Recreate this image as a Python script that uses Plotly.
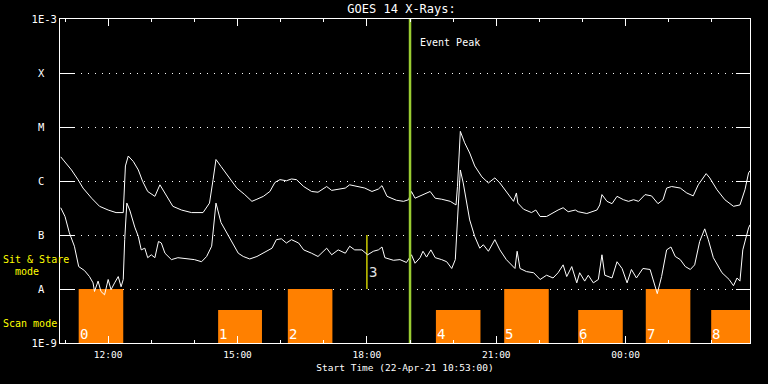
import pandas as pd
import plotly.graph_objects as go

# ---------------- data ----------------
start_time = "2021-04-22 10:53:00"
x_end = "2021-04-23 02:53:00"

# GOES long channel (1-8 A), minutes since start / flux W m^-2
long_min = [1, 16, 25, 32, 44, 55, 67, 78, 88, 91, 95, 102, 109, 115, 122, 132, 139, 146, 157, 169,
            183, 199, 208, 213, 217, 224, 238, 246, 257, 267, 274, 283, 292, 299, 306, 315, 322, 329,
            339, 350, 359, 371, 378, 387, 397, 403, 415, 424, 434, 443, 448, 455, 468, 478, 485, 489,
            494, 501, 508, 515, 522, 531, 543, 551, 553, 555, 557, 563, 570, 577, 587, 596, 605, 612,
            621, 631, 635, 637, 645, 656, 662, 668, 677, 686, 693, 700, 707, 717, 721, 733, 747, 751,
            754, 761, 768, 775, 784, 791, 798, 805, 814, 823, 832, 839, 844, 851, 863, 872, 881, 888,
            899, 904, 914, 925, 937, 946, 953, 958, 960]
long_flux = [2.8e-6, 1.6e-6, 1.06e-6, 7.4e-7, 4.8e-7, 3.4e-7, 2.9e-7, 2.6e-7, 2.6e-7, 1.9e-6, 2.9e-6,
             2.3e-6, 1.6e-6, 9.8e-7, 6.4e-7, 5.2e-7, 8.5e-7, 6.0e-7, 3.4e-7, 2.9e-7, 2.6e-7, 2.6e-7,
             3.9e-7, 1.06e-6, 2.5e-6, 1.86e-6, 1.06e-6, 7.4e-7, 5.6e-7, 4.2e-7, 4.6e-7, 5.2e-7, 6.4e-7,
             9.4e-7, 1.06e-6, 1.01e-6, 1.09e-6, 1.06e-6, 7.9e-7, 6.4e-7, 6.2e-7, 7.9e-7, 6.7e-7, 7.1e-7,
             7.4e-7, 8.5e-7, 7.9e-7, 7.4e-7, 6.4e-7, 7.1e-7, 8.2e-7, 5.2e-7, 4.4e-7, 4.2e-7, 4.5e-7,
             6.4e-7, 4.8e-7, 5.3e-7, 5.8e-7, 6.4e-7, 4.8e-7, 4.6e-7, 4.2e-7, 3.6e-7, 7.9e-7, 2.5e-6,
             8.3e-6, 5.1e-6, 3.3e-6, 1.9e-6, 1.19e-6, 9.2e-7, 1.14e-6, 9.2e-7, 6.4e-7, 4.2e-7, 6.0e-7,
             3.9e-7, 3.0e-7, 2.6e-7, 2.9e-7, 2.2e-7, 2.2e-7, 2.6e-7, 2.9e-7, 3.2e-7, 2.7e-7, 2.9e-7,
             2.7e-7, 2.5e-7, 2.9e-7, 3.6e-7, 5.6e-7, 4.2e-7, 3.8e-7, 5.2e-7, 4.5e-7, 4.2e-7, 4.5e-7,
             4.2e-7, 5.6e-7, 5.3e-7, 3.8e-7, 4.5e-7, 7.4e-7, 7.9e-7, 7.4e-7, 6.0e-7, 5.3e-7, 8.5e-7,
             1.37e-6, 1.14e-6, 6.9e-7, 4.5e-7, 3.4e-7, 3.6e-7, 6.9e-7, 1.41e-6, 1.55e-6]

# GOES short channel (0.5-4 A)
short_min = [1, 7, 13, 20, 26, 30, 34, 41, 46, 48, 53, 57, 62, 67, 71, 76, 81, 85, 88, 90, 93, 97, 104,
             109, 113, 118, 122, 127, 132, 137, 141, 146, 155, 164, 178, 187, 197, 204, 211, 214, 217,
             224, 234, 243, 248, 255, 264, 274, 283, 295, 301, 308, 315, 322, 332, 339, 350, 359, 371,
             378, 387, 397, 403, 410, 420, 428, 436, 443, 448, 452, 464, 473, 482, 489, 494, 501, 505,
             510, 516, 522, 531, 538, 545, 550, 553, 555, 557, 561, 566, 570, 577, 584, 589, 596, 605,
             612, 621, 633, 636, 640, 649, 659, 668, 677, 686, 693, 700, 705, 712, 719, 723, 730, 735,
             742, 749, 754, 758, 768, 775, 782, 789, 795, 802, 811, 821, 825, 831, 837, 844, 850, 856,
             863, 870, 877, 883, 890, 897, 902, 909, 921, 931, 937, 942, 946, 950, 958, 960]
short_flux = [3.2e-7, 2.2e-7, 1.1e-7, 6.2e-8, 2.6e-8, 2.4e-8, 2.2e-8, 1.7e-8, 1.3e-8, 9.0e-9, 1.4e-8,
              9.0e-9, 7.8e-9, 1.5e-8, 9.7e-9, 1.3e-8, 1.7e-8, 1.1e-8, 1.5e-8, 8.2e-8, 3.9e-7, 2.9e-7,
              1.4e-7, 9.4e-8, 5.3e-8, 5.7e-8, 3.8e-8, 4.3e-8, 3.8e-8, 7.6e-8, 7.1e-8, 4.6e-8, 3.5e-8,
              3.8e-8, 3.6e-8, 3.5e-8, 3.2e-8, 4.0e-8, 6.2e-8, 1.4e-7, 3.9e-7, 1.7e-7, 1.0e-7, 6.2e-8,
              4.6e-8, 4.0e-8, 3.6e-8, 4.0e-8, 4.6e-8, 5.7e-8, 8.2e-8, 8.5e-8, 7.1e-8, 8.2e-8, 7.1e-8,
              5.3e-8, 4.6e-8, 4.0e-8, 5.7e-8, 4.3e-8, 5.3e-8, 4.6e-8, 6.2e-8, 5.3e-8, 5.3e-8, 4.3e-8,
              5.0e-8, 5.3e-8, 6.0e-8, 3.8e-8, 3.4e-8, 3.5e-8, 3.1e-8, 4.3e-8, 3.0e-8, 3.8e-8, 5.0e-8,
              3.9e-8, 5.3e-8, 3.8e-8, 3.5e-8, 3.2e-8, 2.4e-8, 3.5e-8, 1.9e-7, 7.9e-7, 1.6e-6, 9.2e-7,
              3.9e-7, 1.9e-7, 9.4e-8, 5.7e-8, 6.6e-8, 5.0e-8, 8.2e-8, 5.3e-8, 3.5e-8, 2.4e-8, 5.0e-8,
              2.4e-8, 2.1e-8, 2.0e-8, 1.5e-8, 1.8e-8, 1.6e-8, 2.0e-8, 2.8e-8, 1.7e-8, 2.6e-8, 1.3e-8,
              2.0e-8, 1.4e-8, 1.8e-8, 1.3e-8, 1.5e-8, 4.3e-8, 1.8e-8, 1.6e-8, 3.2e-8, 2.4e-8, 1.3e-8,
              2.3e-8, 1.6e-8, 2.4e-8, 2.3e-8, 1.5e-8, 8.2e-9, 1.7e-8, 5.3e-8, 6.0e-8, 4.0e-8, 3.5e-8,
              2.6e-8, 2.3e-8, 2.8e-8, 7.6e-8, 1.3e-7, 8.2e-8, 3.8e-8, 2.0e-8, 1.5e-8, 1.15e-8, 1.6e-8,
              1.4e-8, 5.3e-8, 1.35e-7, 1.55e-7]

# IRIS observations: rasters (scan mode)
scan_ids = ["0", "1", "2", "4", "5", "6", "7", "8"]
scan_start = ["2021-04-22 11:19", "2021-04-22 14:33", "2021-04-22 16:10", "2021-04-22 19:36",
              "2021-04-22 21:11", "2021-04-22 22:54", "2021-04-23 00:28", "2021-04-23 01:59"]
scan_end = ["2021-04-22 12:21", "2021-04-22 15:34", "2021-04-22 17:12", "2021-04-22 20:38",
            "2021-04-22 22:13", "2021-04-22 23:56", "2021-04-23 01:30", "2021-04-23 03:01"]
scan_top = [1e-8, 4.1e-9, 1e-8, 4.1e-9, 1e-8, 4.1e-9, 1e-8, 4.1e-9]
# sit & stare
sit_ids = ["3"]
sit_time = ["2021-04-22 18:00"]
sit_low = [1e-8]
sit_high = [1e-7]

event_peak = "2021-04-22 19:00"

y_tickvals = [1e-9, 1e-8, 1e-7, 1e-6, 1e-5, 1e-4, 1e-3]
y_ticktext = ["1E-9", "A", "B", "C", "M", "X", "1E-3"]

# ---------------- figure ----------------
t0 = pd.Timestamp(start_time)
long_t = [t0 + pd.Timedelta(minutes=m) for m in long_min]
short_t = [t0 + pd.Timedelta(minutes=m) for m in short_min]

s_start = pd.to_datetime(scan_start)
s_end = pd.to_datetime(scan_end)
s_mid = s_start + (s_end - s_start) / 2
s_width = [(e - s).total_seconds() * 1000 for s, e in zip(s_start, s_end)]
base = y_tickvals[0]

WHITE = "#ffffff"
ORANGE = "#ff8000"
YELLOW = "#ffff00"
FONT = "DejaVu Sans Mono"

fig = go.Figure()
fig.add_trace(go.Bar(x=s_mid, y=[v - base for v in scan_top], base=base, width=s_width,
                     marker=dict(color=ORANGE, line=dict(width=0)), cliponaxis=False,
                     hoverinfo="skip"))
for t, lo, hi in zip(sit_time, sit_low, sit_high):
    fig.add_trace(go.Scatter(x=[t, t], y=[lo, hi], mode="lines",
                             line=dict(color=YELLOW, width=1.2)))
fig.add_trace(go.Scatter(x=long_t, y=long_flux, mode="lines", line=dict(color=WHITE, width=1)))
fig.add_trace(go.Scatter(x=short_t, y=short_flux, mode="lines", line=dict(color=WHITE, width=1)))
fig.add_trace(go.Scatter(x=[event_peak, event_peak], y=[y_tickvals[0], y_tickvals[-1]], mode="lines",
                         line=dict(color="#9acd32", width=2.5)))

annotations = []
for sid, s in zip(scan_ids, s_start):
    annotations.append(dict(x=s, y=0, xref="x", yref="paper", text=sid, showarrow=False,
                            xanchor="left", yanchor="bottom", xshift=-1, yshift=-1,
                            font=dict(family=FONT, size=14, color=WHITE)))
for sid, t in zip(sit_ids, sit_time):
    annotations.append(dict(x=t, y=0.219, xref="x", yref="paper", text=sid, showarrow=False,
                            xanchor="left", yanchor="middle",
                            font=dict(family=FONT, size=14, color="#e0e0e0")))
annotations.append(dict(x=event_peak, y=0.926, xref="x", yref="paper", text="Event Peak",
                        showarrow=False, xanchor="left", yanchor="middle", xshift=8,
                        font=dict(family=FONT, size=10, color=WHITE)))
for txt, xp, yp in [("Sit &amp; Stare", -0.086, 0.259), ("&nbsp;&nbsp;mode", -0.086, 0.222),
                    ("Scan mode", -0.086, 0.059)]:
    annotations.append(dict(x=xp, y=yp, xref="paper", yref="paper", text=txt, showarrow=False,
                            xanchor="left", yanchor="middle",
                            font=dict(family=FONT, size=10, color=YELLOW)))

fig.update_layout(
    width=768, height=384,
    margin=dict(l=60, r=18, t=19, b=41),
    paper_bgcolor="black", plot_bgcolor="black",
    showlegend=False,
    font=dict(family=FONT, color=WHITE, size=11),
    title=dict(text="GOES 14 X-Rays:", x=0.495, xref="paper", y=1 - 9 / 384, yref="container",
               xanchor="center", yanchor="middle",
               font=dict(family=FONT, size=12, color=WHITE)),
    annotations=annotations,
    xaxis=dict(
        type="date", range=[start_time, x_end],
        tick0="2021-04-22 00:00", dtick=3 * 3600 * 1000, tickformat="%H:%M",
        ticks="inside", ticklen=7, tickcolor=WHITE, tickwidth=1,
        minor=dict(dtick=3600 * 1000, ticks="inside", ticklen=3, tickcolor=WHITE, showgrid=False),
        showline=True, linecolor=WHITE, linewidth=1, mirror="ticks",
        showgrid=False, zeroline=False, ticklabelstandoff=3,
        tickfont=dict(family=FONT, size=9.5, color=WHITE),
        title=dict(text="Start Time (22-Apr-21 10:53:00)", standoff=4,
                   font=dict(family=FONT, size=9.5, color=WHITE)),
    ),
    yaxis=dict(
        type="log", range=[-9, -3],
        tickvals=y_tickvals, ticktext=[t if len(t) > 1 else t + "\u00a0\u00a0" for t in y_ticktext],
        ticks="inside", ticklen=14, tickcolor=WHITE, tickwidth=1,
        showline=True, linecolor=WHITE, linewidth=1, mirror="ticks",
        showgrid=True, gridcolor=WHITE, gridwidth=1, griddash="1px,6px",
        zeroline=False,
        tickfont=dict(family=FONT, size=10.5, color=WHITE),
    ),
)

fig.write_html("out.html", config={"displayModeBar": False},
               post_script="document.body.style.margin='0';")
